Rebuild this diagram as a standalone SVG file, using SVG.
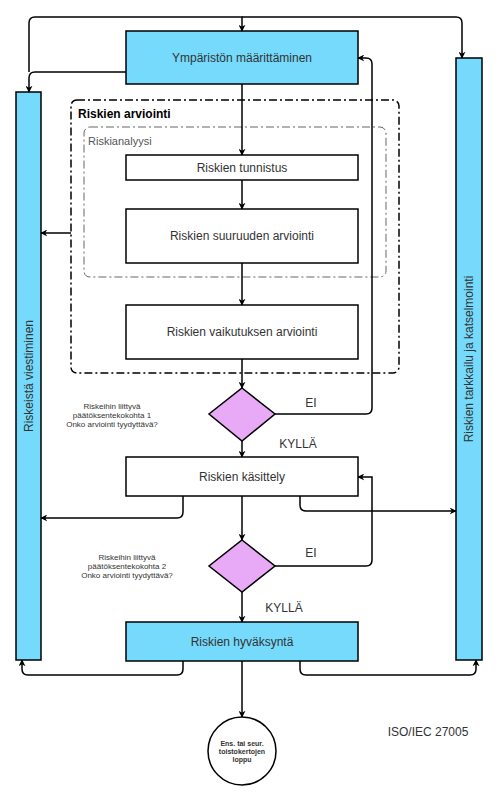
<svg xmlns="http://www.w3.org/2000/svg" width="500" height="809" viewBox="0 0 500 809">
<defs>
<marker id="ar" viewBox="0 0 10 10" refX="9" refY="5" markerWidth="7" markerHeight="7" orient="auto" markerUnits="userSpaceOnUse">
<path d="M0,0 L10,5 L0,10 L3,5 z" fill="#000"/>
</marker>
<style>
.box{fill:#fff;stroke:#000;stroke-width:1.5}
.cy{fill:#75DAFB;stroke:#000;stroke-width:1.5}
.dm{fill:#E8A9F6;stroke:#000;stroke-width:1.5}
.t{font-family:"Liberation Sans",Arial,sans-serif;font-size:12px;fill:#333;text-anchor:middle}
.s{font-family:"Liberation Sans",Arial,sans-serif;font-size:8px;fill:#333;text-anchor:middle}
.c{fill:none;stroke:#000;stroke-width:1.5;marker-end:url(#ar)}
.l{fill:none;stroke:#000;stroke-width:1.5}
</style>
</defs>
<rect width="500" height="809" fill="#fff"/>
<g id="group-arviointi">
<rect x="71" y="100" width="328" height="273" rx="6" fill="none" stroke="#000" stroke-width="1.5" stroke-dasharray="8,3,2,3"/>
<text x="78" y="118" font-family="Liberation Sans,Arial,sans-serif" font-size="12" font-weight="bold" fill="#000">Riskien arviointi</text>
</g>
<g id="group-analyysi">
<rect x="84" y="127" width="302" height="150" rx="6" fill="none" stroke="#666" stroke-width="1" stroke-dasharray="8,3,2,3"/>
<text x="88" y="145" font-family="Liberation Sans,Arial,sans-serif" font-size="11" fill="#555">Riskianalyysi</text>
</g>
<g id="connectors">
<path class="c" d="M29,72 V23 Q29,17 35,17 H242 V31"/>
<path class="c" d="M242,17 H456 Q462,17 462,23 V58"/>
<path class="c" d="M126,72 H35 Q29,72 29,78 V92"/>
<path class="c" d="M242,84 V155"/>
<path class="c" d="M242,180 V209"/>
<path class="c" d="M242,263 V305"/>
<path class="c" d="M71,233 H60 Q58,233 58,233 H41"/>
<path class="c" d="M242,359 V388"/>
<path class="c" d="M275,414 H366 Q372,414 372,408 V64 Q372,58 366,58 H358"/>
<path class="c" d="M242,441 V457"/>
<path class="c" d="M275,566 H366 Q372,566 372,560 V477 H358"/>
<path class="c" d="M183,496 V512 Q183,518 177,518 H41"/>
<path class="c" d="M300,496 V505 Q300,511 306,511 H456"/>
<path class="c" d="M242,496 V540"/>
<path class="c" d="M242,592 V622"/>
<path class="c" d="M183,661 V669 Q183,675 177,675 H28 Q22,675 22,669 V660"/>
<path class="c" d="M300,661 V669 Q300,675 306,675 H470 Q476,675 476,669 V660"/>
<path class="c" d="M242,661 V717"/>
</g>
<g id="node-ymparisto">
<rect class="cy" x="126" y="31" width="232" height="53"/>
<text class="t" x="242" y="62">Ympäristön määrittäminen</text>
</g>
<g id="node-viestiminen">
<rect class="cy" x="16" y="92" width="25" height="568"/>
<text class="t" transform="translate(33,376) rotate(-90)">Riskeistä viestiminen</text>
</g>
<g id="node-tarkkailu">
<rect class="cy" x="456" y="58" width="26" height="602"/>
<text class="t" transform="translate(473,359) rotate(-90)">Riskien tarkkailu ja katselmointi</text>
</g>
<g id="node-tunnistus">
<rect class="box" x="126" y="155" width="232" height="25"/>
<text class="t" x="242" y="172">Riskien tunnistus</text>
</g>
<g id="node-suuruus">
<rect class="box" x="126" y="209" width="232" height="54"/>
<text class="t" x="242" y="240">Riskien suuruuden arviointi</text>
</g>
<g id="node-vaikutus">
<rect class="box" x="126" y="305" width="232" height="54"/>
<text class="t" x="242" y="336">Riskien vaikutuksen arviointi</text>
</g>
<g id="node-paatos1">
<polygon class="dm" points="242,388 275,414 242,441 209,414"/>
<text class="s" x="112" y="409">Riskeihin liittyvä</text>
<text class="s" x="112" y="418">päätöksentekokohta 1</text>
<text class="s" x="112" y="427">Onko arviointi tyydyttävä?</text>
<text class="t" x="311" y="407">EI</text>
<text class="t" x="298" y="448">KYLLÄ</text>
</g>
<g id="node-kasittely">
<rect class="box" x="126" y="457" width="232" height="39"/>
<text class="t" x="242" y="481">Riskien käsittely</text>
</g>
<g id="node-paatos2">
<polygon class="dm" points="242,540 275,566 242,592 209,566"/>
<text class="s" x="127" y="560">Riskeihin liittyvä</text>
<text class="s" x="127" y="569">päätöksentekokohta 2</text>
<text class="s" x="127" y="578">Onko arviointi tyydyttävä?</text>
<text class="t" x="311" y="557">EI</text>
<text class="t" x="284" y="612">KYLLÄ</text>
</g>
<g id="node-hyvaksynta">
<rect class="cy" x="126" y="622" width="232" height="39"/>
<text class="t" x="242" y="646">Riskien hyväksyntä</text>
</g>
<g id="node-loppu">
<circle cx="242" cy="751" r="34" fill="#fff" stroke="#000" stroke-width="1.5"/>
<text x="242" y="746" font-family="Liberation Sans,Arial,sans-serif" font-size="7" font-weight="bold" fill="#333" text-anchor="middle">Ens. tai seur.</text>
<text x="242" y="754" font-family="Liberation Sans,Arial,sans-serif" font-size="7" font-weight="bold" fill="#333" text-anchor="middle">toistokertojen</text>
<text x="242" y="762" font-family="Liberation Sans,Arial,sans-serif" font-size="7" font-weight="bold" fill="#333" text-anchor="middle">loppu</text>
</g>
<text class="t" x="428" y="736">ISO/IEC 27005</text>
</svg>
